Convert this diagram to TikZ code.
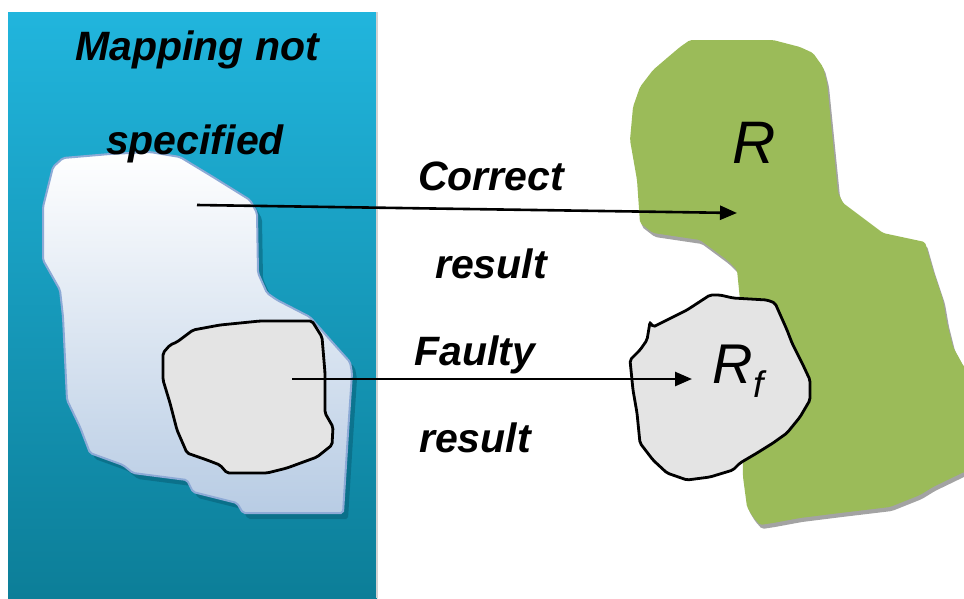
\documentclass[tikz,border=0pt]{standalone}
\usepackage{fontspec}
\setmainfont{Liberation Sans}
\usetikzlibrary{arrows.meta,shadows}
\definecolor{paneltop}{RGB}{33,181,221}
\definecolor{panelbot}{RGB}{12,126,152}
\definecolor{dombot}{RGB}{184,204,228}
\definecolor{domline}{RGB}{141,170,214}
\definecolor{domshadow}{RGB}{8,98,122}
\definecolor{rangegreen}{RGB}{155,187,89}
\definecolor{faultgray}{RGB}{228,228,228}

\begin{document}
\begin{tikzpicture}[x = 1pt, y = -1pt, line width = 2.6pt, >={Triangle[length=17pt, width=14pt]},
                      lbl/.style = {font = \fontsize{41}{48}\selectfont\bfseries\itshape, anchor = base, inner sep = 0pt},
                      setname/.style = {font = \fontsize{60}{60}\selectfont\itshape, anchor = base, inner sep = 0pt},
                      faultblob/.style = {draw = black, fill = faultgray, line width = 2.8pt, rounded corners = 2pt}]
    \useasboundingbox (0, 0) rectangle (964, 598);
    \shade [top color = paneltop, bottom color = panelbot] (8, 12) rectangle (377, 598);
    \draw [gray!35, line width = 1.5pt] (377, 12) -- (377, 598);
    \draw [domline, line width = 2pt, top color = white, bottom color = dombot, rounded corners = 2pt,
           drop shadow = {shadow xshift = 5pt, shadow yshift = -6pt, fill = domshadow, opacity = 0.6}]
        (53, 167) -- (63, 158) -- (110, 154) -- (150, 152) -- (180, 157) -- (213, 177) -- (250, 200)
        -- (257, 213) -- (258, 273) -- (267, 293) -- (277, 300) -- (310, 317) -- (333, 343) -- (350, 362)
        -- (352, 373) -- (348, 433) -- (343, 513) -- (243, 513) -- (237, 503) -- (193, 492) -- (187, 480)
        -- (133, 473) -- (123, 465) -- (90, 453) -- (80, 427) -- (67, 400) -- (63, 317) -- (60, 290)
        -- (43, 260) -- (43, 207) -- cycle;
    \draw [faultblob] (163, 353) -- (170, 345) -- (177, 342) -- (193, 330) -- (220, 325) -- (260, 321)
        -- (312, 321) -- (322, 337) -- (325, 373) -- (325, 413) -- (333, 427) -- (332, 445) -- (317, 457)
        -- (287, 468) -- (267, 473) -- (227, 473) -- (220, 465) -- (207, 460) -- (187, 453) -- (177, 430)
        -- (170, 403) -- (163, 380) -- cycle;
    \fill [rangegreen, rounded corners = 2pt,
           drop shadow = {shadow xshift = 2pt, shadow yshift = -4pt, fill = black!45, opacity = 0.8}]
        (640, 87) -- (653, 70) -- (667, 58) -- (680, 47) -- (690, 40) -- (773, 40) -- (800, 47)
        -- (813, 53) -- (823, 67) -- (827, 83) -- (838, 193) -- (843, 203) -- (883, 233) -- (925, 242)
        -- (933, 270) -- (943, 300) -- (947, 323) -- (953, 347) -- (964, 367) -- (980, 370) -- (980, 470)
        -- (964, 472) -- (933, 487) -- (920, 495) -- (890, 507) -- (840, 513) -- (800, 518) -- (773, 523)
        -- (760, 525) -- (753, 517) -- (747, 507) -- (743, 477) -- (740, 300) -- (737, 270) -- (727, 260)
        -- (700, 240) -- (653, 233) -- (640, 223) -- (637, 180) -- (630, 140) -- (633, 107) -- cycle;
    \draw [faultblob] (650, 322) -- (653, 327) -- (667, 320) -- (687, 310) -- (710, 295) -- (720, 295)
        -- (733, 298) -- (767, 300) -- (775, 303) -- (787, 330) -- (792, 343) -- (803, 365) -- (810, 380)
        -- (810, 400) -- (800, 417) -- (787, 433) -- (773, 443) -- (757, 453) -- (740, 463) -- (733, 470)
        -- (710, 477) -- (687, 480) -- (667, 473) -- (653, 460) -- (640, 443) -- (637, 413) -- (633, 390)
        -- (630, 360) -- (640, 350) -- (647, 340) -- cycle;
    \node [lbl] (mapnot) at (197, 60){Mapping not};
    \node [lbl] (spec) at (195, 154){specified};
    \node [lbl] (correct) at (491, 190){Correct};
    \node [lbl] (correctres) at (491, 278){result};
    \node [lbl] (faulty) at (475, 365){Faulty};
    \node [lbl] (faultyres) at (475, 452){result};
    \node [setname] (r) at (754, 163){R};
    \node [setname, font = \fontsize{56}{56}\selectfont\itshape] (rf) at (738, 383){R\raisebox{-14pt}{\fontsize{37}{37}\selectfont f}};
    \coordinate (corrfrom) at (197, 205);
    \coordinate (corrto) at (737, 213);
    \coordinate (faultfrom) at (292, 379);
    \coordinate (faultto) at (692, 379);
    \draw [->] (corrfrom) -- (corrto);
    \draw [->] (faultfrom) -- (faultto);
    \end{tikzpicture}
\end{document}
